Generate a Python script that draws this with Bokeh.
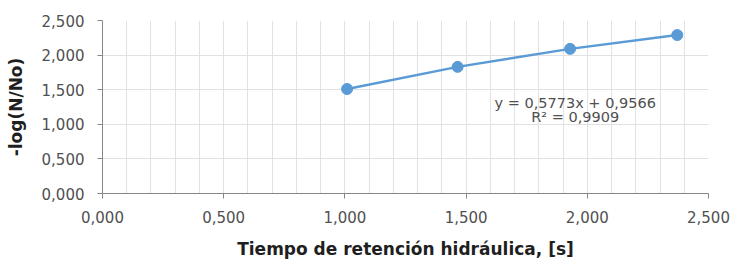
from bokeh.plotting import figure
from bokeh.models import FixedTicker, CustomJSTickFormatter, Range1d, Label, ColumnDataSource
from bokeh.embed import file_html
from bokeh.resources import INLINE

# Data
tiempo = [1.009, 1.465, 1.929, 2.371]
neg_log = [1.51, 1.83, 2.09, 2.29]
x_ticks = [0.0, 0.5, 1.0, 1.5, 2.0, 2.5]
x_minor = [0.1, 0.2, 0.3, 0.4, 0.6, 0.7, 0.8, 0.9, 1.1, 1.2, 1.3, 1.4,
           1.6, 1.7, 1.8, 1.9, 2.1, 2.2, 2.3, 2.4]
y_ticks = [0.0, 0.5, 1.0, 1.5, 2.0, 2.5]
eq_text = "y = 0,5773x + 0,9566"
r2_text = "R² = 0,9909"
x_title = "Tiempo de retención hidráulica, [s]"
y_title = "-log(N/No)"

FONT = "DejaVu Sans"
TICK_COLOR = "#505050"
TITLE_COLOR = "#1f1f1f"
AXIS_COLOR = "#868686"
GRID_COLOR = "#e2e2e2"
BLUE = "#5b9bd5"

p = figure(width=733, height=262, output_backend="svg", toolbar_location=None,
           x_range=Range1d(0, 2.5), y_range=Range1d(0, 2.5),
           min_border_left=102, min_border_right=25, min_border_top=20, min_border_bottom=69)
p.outline_line_color = None

fmt = CustomJSTickFormatter(code="return tick.toFixed(3).replace('.', ',');")
p.xaxis.ticker = FixedTicker(ticks=x_ticks, minor_ticks=x_minor)
p.yaxis.ticker = FixedTicker(ticks=y_ticks)
for ax in (p.xaxis, p.yaxis):
    ax.formatter = fmt
    ax.axis_line_color = AXIS_COLOR
    ax.major_tick_line_color = AXIS_COLOR
    ax.major_tick_in = 0
    ax.major_tick_out = 5
    ax.minor_tick_line_color = None
    ax.major_label_text_font = FONT
    ax.major_label_text_font_size = "15px"
    ax.major_label_text_color = TICK_COLOR
    ax.axis_label_text_font = FONT
    ax.axis_label_text_font_style = "bold"
    ax.axis_label_text_color = TITLE_COLOR
    ax.axis_label_text_font_size = "17px"

p.xaxis.axis_label = x_title
p.yaxis.axis_label = y_title
p.xaxis.major_label_standoff = 12
p.yaxis.major_label_standoff = 13
p.xaxis.axis_label_standoff = 13
p.yaxis.axis_label_standoff = 13

p.xgrid.grid_line_color = GRID_COLOR
p.xgrid.minor_grid_line_color = GRID_COLOR
p.ygrid.grid_line_color = GRID_COLOR
p.xgrid.grid_line_width = 1
p.ygrid.grid_line_width = 1

src = ColumnDataSource(dict(x=tiempo, y=neg_log))
p.line("x", "y", source=src, line_color=BLUE, line_width=2.5)
p.scatter("x", "y", source=src, size=11, fill_color=BLUE, line_color=BLUE)

for txt, yy in ((eq_text, 1.31), (r2_text, 1.10)):
    p.add_layout(Label(x=1.95, y=yy, text=txt, text_align="center", text_baseline="middle",
                       text_font=FONT, text_font_size="14.5px", text_color=TICK_COLOR))

open("out.html", "w").write(file_html(p, INLINE))
